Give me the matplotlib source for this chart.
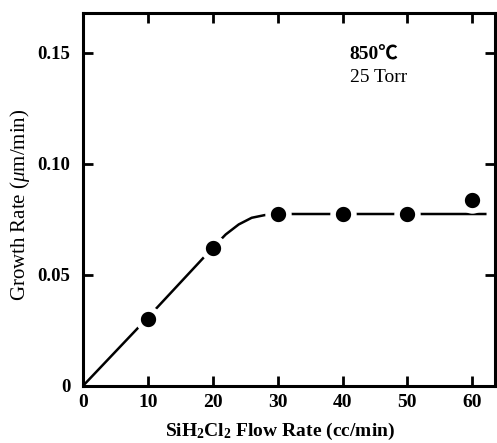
"""Growth rate vs SiH2Cl2 flow rate (850 C, 25 Torr)."""
import matplotlib
matplotlib.use("Agg")
import matplotlib.pyplot as plt

# measured points
flow = [10, 20, 30, 40, 50, 60]
rate = [0.0302, 0.062, 0.0775, 0.0775, 0.0776, 0.0838]

# hand-drawn guide curve (vertices)
curve_x = [0, 10, 20, 22, 24, 26, 28, 30, 62]
curve_y = [0, 0.0308, 0.0622, 0.0682, 0.0727, 0.0757, 0.0769, 0.0774, 0.0774]

xticks = [0, 10, 20, 30, 40, 50, 60]
yticks = [0, 0.05, 0.10, 0.15]
ytick_labels = ["0", "0.05", "0.10", "0.15"]

plt.rcParams["font.family"] = ["Liberation Serif", "Noto Sans CJK JP"]
plt.rcParams["mathtext.fontset"] = "custom"
plt.rcParams["mathtext.rm"] = "Liberation Serif"
plt.rcParams["mathtext.it"] = "Liberation Serif:italic"
plt.rcParams["mathtext.bf"] = "Liberation Serif:bold"

fig = plt.figure(figsize=(4.97, 4.43), dpi=100)
ax = fig.add_axes([0.167, 0.129, 0.829, 0.842])

ax.plot(curve_x, curve_y, color="black", lw=1.8, zorder=2)
ax.plot(flow, rate, "o", color="black", ms=15, mec="white", mew=4, zorder=3)

ax.set_xlim(0, 63.5)
ax.set_ylim(0, 0.168)
ax.set_xticks(xticks)
ax.set_yticks(yticks)
ax.set_yticklabels(ytick_labels)
ax.tick_params(direction="in", length=7, width=2, top=True, right=True)
ax.tick_params(axis="x", labelsize=14, pad=6)
ax.tick_params(axis="y", labelsize=13.5, pad=9)
for lab in ax.get_xticklabels() + ax.get_yticklabels():
    lab.set_fontweight("bold")
for sp in ax.spines.values():
    sp.set_linewidth(2.2)

# run conditions
ax.text(0.647, 0.91, "850℃", transform=ax.transAxes, fontsize=14,
        fontweight="bold", va="top", ha="left")
ax.text(0.647, 0.85, "25 Torr", transform=ax.transAxes, fontsize=14,
        va="top", ha="left")

fig.text(0.563, 0.016,
         r"SiH$_\mathbf{2}$Cl$_\mathbf{2}$ Flow Rate (cc/min)",
         fontsize=14, fontweight="bold", ha="center", va="baseline")
fig.text(0.04, 0.537, r"Growth Rate ($\mu$m/min)", fontsize=15,
         rotation=90, ha="center", va="center")

fig.savefig("out.png", dpi=100)
